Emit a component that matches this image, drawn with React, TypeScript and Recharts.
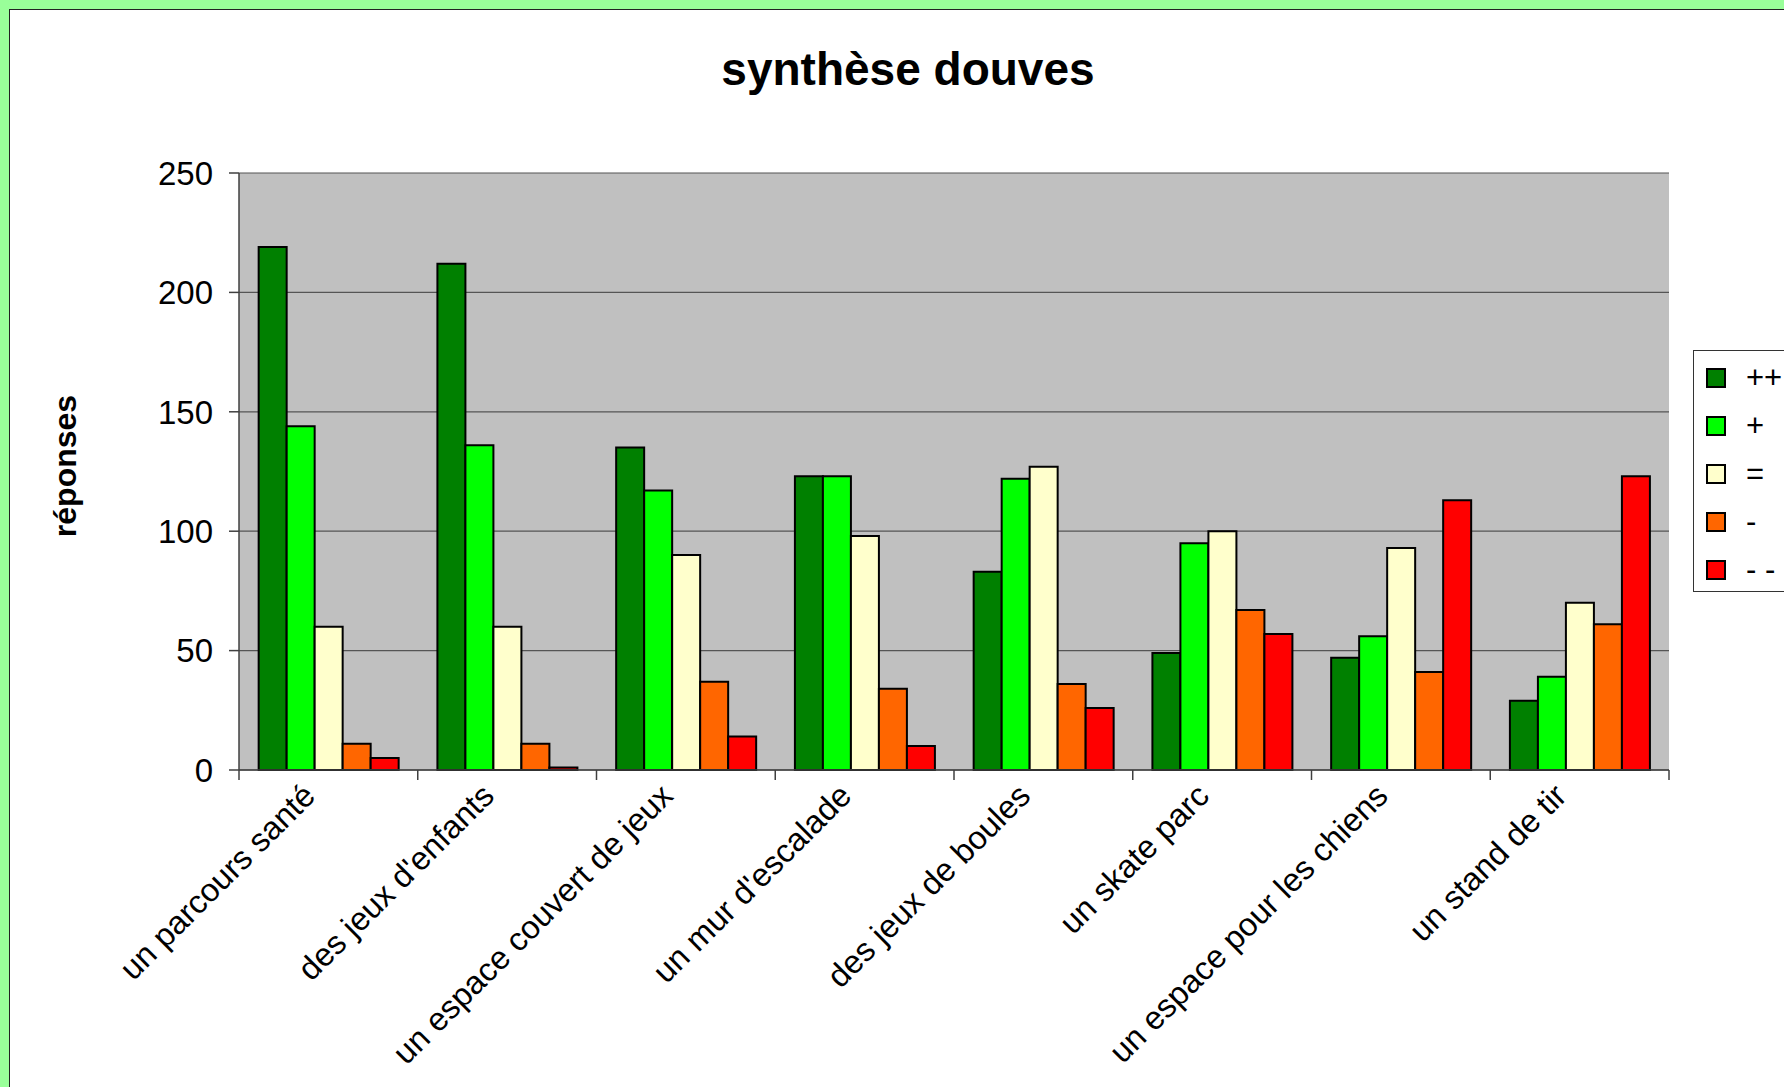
import React from 'react';
import { BarChart, Bar, XAxis, YAxis, CartesianGrid } from 'recharts';

const categories = [
  'un parcours santé',
  "des jeux d'enfants",
  'un espace couvert de jeux',
  "un mur d'escalade",
  'des jeux de boules',
  'un skate parc',
  'un espace pour les chiens',
  'un stand de tir',
];
const seriesNames = ['++', '+', '=', '-', '- -'];
const seriesColors = ['#008000', '#00FF00', '#FFFFCC', '#FF6600', '#FF0000'];
const vPlusPlus = [219, 212, 135, 123, 83, 49, 47, 29];
const vPlus = [144, 136, 117, 123, 122, 95, 56, 39];
const vEqual = [60, 60, 90, 98, 127, 100, 93, 70];
const vMinus = [11, 11, 37, 34, 36, 67, 41, 61];
const vMinusMinus = [5, 1, 14, 10, 26, 57, 113, 123];
const yTicks = [0, 50, 100, 150, 200, 250];

const seriesValues = [vPlusPlus, vPlus, vEqual, vMinus, vMinusMinus];
const keys = ['s0', 's1', 's2', 's3', 's4'];

const data = categories.map((c, i) => {
  const row: any = { name: c };
  keys.forEach((k, j) => (row[k] = seriesValues[j][i]));
  return row;
});

const FONT = '"Liberation Sans", Arial, Helvetica, sans-serif';

const XTick = (props: any) => {
  const { x, y, payload, index, visibleTicksCount } = props;
  const half = payload && payload.offset ? payload.offset : 89.375;
  const last = index === (visibleTicksCount ?? categories.length) - 1;
  const ax = x - 19;
  const ay = y + 20;
  return (
    <g>
      <line x1={x - half} y1={y} x2={x - half} y2={y + 10} stroke="#404040" strokeWidth={1.5} />
      {last && <line x1={x + half} y1={y} x2={x + half} y2={y + 10} stroke="#404040" strokeWidth={1.5} />}
      <text
        x={ax}
        y={ay}
        transform={`rotate(-45 ${ax} ${ay})`}
        textAnchor="end"
        dominantBaseline="central"
        fontSize={32.5}
        fontFamily={FONT}
        fill="#000"
      >
        {payload.value}
      </text>
    </g>
  );
};

export default function App() {
  return (
    <div style={{ position: 'fixed', left: 0, top: 0, width: 1784, height: 1087, overflow: 'hidden', background: '#99FF99', fontFamily: FONT }}>
      <div style={{ position: 'absolute', left: 9, top: 9, width: 1800, height: 1100, background: '#fff', borderLeft: '1.5px solid #222', borderTop: '1.5px solid #222' }} />
      <div style={{ position: 'absolute', left: 0, top: 46, width: 1816, textAlign: 'center', fontSize: 46, fontWeight: 'bold', lineHeight: '46px', color: '#000' }}>
        synthèse douves
      </div>
      <div style={{ position: 'absolute', left: 65, top: 466, transform: 'translate(-50%, -50%) rotate(-90deg)', fontSize: 32, fontWeight: 'bold', whiteSpace: 'nowrap', color: '#000' }}>
        réponses
      </div>
      <div style={{ position: 'absolute', left: 0, top: 0 }}>
        <BarChart
          width={1784}
          height={1087}
          data={data}
          margin={{ top: 173, right: 115, bottom: 117, left: 139 }}
          barCategoryGap="11%"
          barGap={0}
        >
          <CartesianGrid horizontal vertical={false} fill="#C0C0C0" stroke="#555" strokeWidth={1.2} />
          <XAxis
            dataKey="name"
            interval={0}
            height={200}
            tickLine={false}
            tickSize={0}
            tickMargin={0}
            axisLine={{ stroke: '#404040', strokeWidth: 1.5 }}
            tick={<XTick />}
          />
          <YAxis
            domain={[0, 250]}
            ticks={yTicks}
            width={100}
            tickSize={10}
            tickMargin={16}
            axisLine={{ stroke: '#404040', strokeWidth: 1.5 }}
            tickLine={{ stroke: '#404040', strokeWidth: 1.5 }}
            tick={{ fontSize: 33, fill: '#000', fontFamily: FONT }}
          />
          <YAxis
            yAxisId="right"
            orientation="right"
            domain={[0, 250]}
            width={0}
            tick={false}
            tickLine={false}
            axisLine={{ stroke: '#808080', strokeWidth: 1.5 }}
          />
          {keys.map((k, j) => (
            <Bar
              key={k}
              dataKey={k}
              name={seriesNames[j]}
              fill={seriesColors[j]}
              stroke="#000"
              strokeWidth={2}
              isAnimationActive={false}
            />
          ))}
        </BarChart>
      </div>
      <div style={{ position: 'absolute', left: 1693, top: 350, width: 140, height: 240, background: '#fff', border: '1.5px solid #333' }}>
        {seriesNames.map((n, j) => (
          <div key={n} style={{ position: 'absolute', left: 12, top: 15 + j * 48, height: 24, display: 'flex', alignItems: 'center' }}>
            <div style={{ width: 16, height: 16, background: seriesColors[j], border: '2px solid #000' }} />
            <div style={{ marginLeft: 20, fontSize: 31, lineHeight: '24px', color: '#000', whiteSpace: 'pre' }}>{n}</div>
          </div>
        ))}
      </div>
    </div>
  );
}
